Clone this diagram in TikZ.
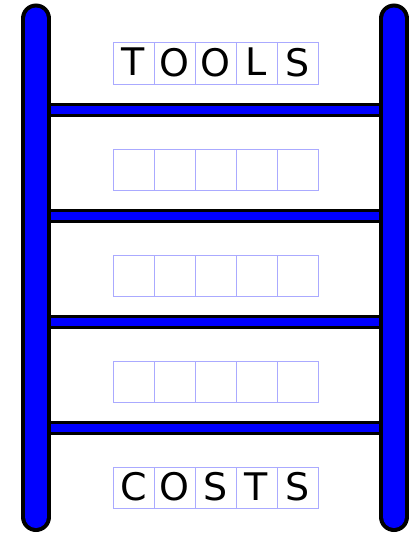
\documentclass[tikz,border=0pt]{standalone}
\usepackage{fontspec}
\setmainfont{DejaVu Sans}
\definecolor{cellblue}{RGB}{170,170,255}
\tikzset{
  rail/.style={blue,line width=22pt,line cap=round,preaction={draw,black,line width=30pt,line cap=round}},
  rung/.style={blue,line width=8pt,preaction={draw,black,line width=14pt}},
  cell/.style={draw=cellblue,line width=1pt,minimum size=41pt,inner sep=0pt,text depth=3pt,font=\fontsize{38}{38}\selectfont}
}
\begin{document}
\begin{tikzpicture}[x=1pt,y=-1pt]
\useasboundingbox(0,0)rectangle(417,535);
% rails
\coordinate(lt)at(36,18.5);\coordinate(lb)at(36,517);
\coordinate(rt)at(394,18.5);\coordinate(rb)at(394,517);
% rungs
\foreach \y[count=\i] in {110,216,322,428}{
  \coordinate(l\i)at(36,\y);\coordinate(r\i)at(394,\y);
  \draw[rung](l\i)--(r\i);
}
\draw[rail](lt)--(lb);\draw[rail](rt)--(rb);
% word boxes
\foreach \c[count=\i] in {T,O,O,L,S}
  \node[cell](t\i)at(92.5+41*\i,63.5){\c};
\foreach \y[count=\r] in {170,276,382}
  \foreach \i in {1,...,5}
    \node[cell](e\r\i)at(92.5+41*\i,\y){};
\foreach \c[count=\i] in {C,O,S,T,S}
  \node[cell](c\i)at(92.5+41*\i,488){\c};
\end{tikzpicture}
\end{document}
